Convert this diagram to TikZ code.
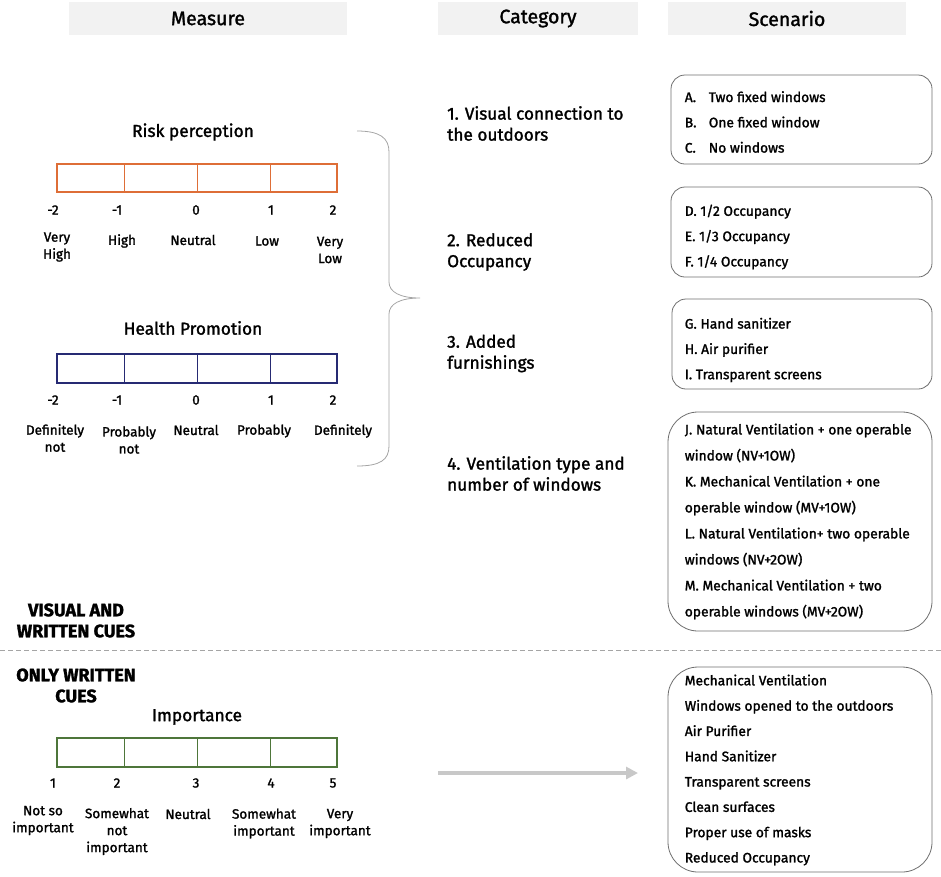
\documentclass[tikz,border=0pt]{standalone}
\usepackage{fontspec}
\setmainfont{Fira Sans}[FakeBold=1.5]
\usetikzlibrary{positioning,arrows.meta}
\definecolor{headgrey}{RGB}{242,242,242}
\definecolor{boxgrey}{RGB}{110,110,110}
\definecolor{bracegrey}{RGB}{165,165,165}
\definecolor{arrowgrey}{RGB}{200,200,200}
\definecolor{riskorange}{RGB}{222,110,55}
\definecolor{healthblue}{RGB}{38,42,115}
\definecolor{impgreen}{RGB}{78,118,58}
\tikzset{
  headbox/.style={fill=headgrey, minimum height=33pt, inner sep=0pt,
    font=\fontsize{19.5}{22}\selectfont},
  title/.style={font=\fontsize{17.3}{20}\selectfont},
  cattext/.style={anchor=west, align=left, inner sep=0pt,
    font=\fontsize{17.2}{21}\selectfont},
  num/.style={inner sep=0pt, font=\fontsize{13.5}{16}\selectfont},
  lbl/.style={inner sep=0pt, align=center, font=\fontsize{13.5}{17}\selectfont},
  scbox/.style={draw=boxgrey, line width=0.8pt, rounded corners=14pt, inner sep=0pt},
  sclist/.style={anchor=west, align=left, inner sep=0pt,
    font=\fontsize{13.8}{25.3}\selectfont},
  cue/.style={align=center, inner sep=0pt, font=\fontsize{18}{21}\selectfont\bfseries}
}
\begin{document}
\begin{tikzpicture}[x=1pt,y=-1pt]
\useasboundingbox (0,0) rectangle (941,876);

% column heads
\node[headbox, minimum width=278pt] (measure) at (208,18.5) {Measure};
\node[headbox, minimum width=200pt] (category) at (538,18.5) {Category};
\node[headbox, minimum width=238pt] (scenario) at (787,18.5) {Scenario};

% risk perception scale
\node[title] (risk) at (193,132) {Risk perception};
\draw[riskorange, line width=1.3pt] (57,164) rectangle (337,192);
\foreach \x in {124,197,270}
  \draw[riskorange, line width=0.7pt] (\x,164) -- (\x,192);
\foreach \x/\n [count=\i] in {53/-2,117/-1,196/0,271/1,333/2}
  \node[num] (rn\i) at (\x,210) {\n};
\node[lbl] (rl1) at (57,247) {Very\\High};
\node[lbl] (rl2) at (122,241) {High};
\node[lbl] (rl3) at (193,240) {Neutral};
\node[lbl] (rl4) at (267,241) {Low};
\node[lbl] (rl5) at (330,250) {Very\\Low};

% health promotion scale
\node[title] (health) at (193,328) {Health Promotion};
\draw[healthblue, line width=1.3pt] (57,354) rectangle (337,383);
\foreach \x in {124,197,270}
  \draw[healthblue, line width=0.7pt] (\x,354) -- (\x,383);
\foreach \x/\n [count=\i] in {53/-2,117/-1,196/0,271/1,333/2}
  \node[num] (hn\i) at (\x,400) {\n};
\node[lbl] (hl1) at (55,438) {Definitely\\not};
\node[lbl] (hl2) at (129,440) {Probably\\not};
\node[lbl] (hl3) at (196,430) {Neutral};
\node[lbl] (hl4) at (264,431) {Probably};
\node[lbl] (hl5) at (343,431) {Definitely};

% brace
\coordinate (bracetop) at (357,131);
\coordinate (bracetip) at (420,298);
\coordinate (bracebot) at (357,466);
\draw[bracegrey, line width=0.8pt] (bracetop)
  .. controls (380,131) and (389,138) .. (389,152) -- (389,282)
  .. controls (389,292) and (400,298) .. (bracetip)
  .. controls (400,298) and (389,304) .. (389,314) -- (389,446)
  .. controls (389,460) and (380,466) .. (bracebot);

% categories
\node[cattext] (cat1) at (447,123.5) {1. Visual connection to\\the outdoors};
\node[cattext] (cat2) at (447,252) {2. Reduced\\Occupancy};
\node[cattext] (cat3) at (447,353.5) {3. Added\\furnishings};
\node[cattext] (cat4) at (447,473.5) {4. Ventilation type and\\number of windows};

% scenarios
\node[scbox, minimum width=261pt, minimum height=89pt] (sc1) at (801.5,119.5) {};
\node[sclist] (sc1txt) at ([xshift=14pt,yshift=-2.5pt]sc1.west)
  {\makebox[24pt][l]{A.}Two fixed windows\\\makebox[24pt][l]{B.}One fixed window\\\makebox[24pt][l]{C.}No windows};
\node[scbox, minimum width=261pt, minimum height=90pt] (sc2) at (801.5,232) {};
\node[sclist] (sc2txt) at ([xshift=14pt,yshift=-5pt]sc2.west)
  {D. 1/2 Occupancy\\E. 1/3 Occupancy\\F. 1/4 Occupancy};
\node[scbox, minimum width=260pt, minimum height=90pt] (sc3) at (802,344) {};
\node[sclist] (sc3txt) at ([xshift=13pt,yshift=-6pt]sc3.west)
  {G. Hand sanitizer\\H. Air purifier\\I. Transparent screens};
\node[scbox, rounded corners=30pt, minimum width=264pt, minimum height=219pt] (sc4) at (800,521.5) {};
\node[sclist, font=\fontsize{13.8}{26}\selectfont] (sc4txt) at ([xshift=17pt]sc4.west)
  {J. Natural Ventilation + one operable\\window (NV+1OW)\\K. Mechanical Ventilation + one\\operable window (MV+1OW)\\L. Natural Ventilation+ two operable\\windows (NV+2OW)\\M. Mechanical Ventilation + two\\operable windows (MV+2OW)};

% cues
\node[cue] (visualcues) at (76,620.5) {VISUAL AND\\WRITTEN CUES};
\coordinate (dashleft) at (0,650);
\coordinate (dashright) at (941,650);
\draw[bracegrey, dash pattern=on 5pt off 3pt, line width=0.8pt] (dashleft) -- (dashright);
\node[cue] (writtencues) at (76,685.5) {ONLY WRITTEN\\CUES};

% importance scale
\node[title] (importance) at (197,717) {Importance};
\draw[impgreen, line width=1.3pt] (57,738) rectangle (337,767);
\foreach \x in {124,197,270}
  \draw[impgreen, line width=0.7pt] (\x,738) -- (\x,767);
\foreach \x/\n [count=\i] in {53/1,117/2,196/3,271/4,333/5}
  \node[num] (in\i) at (\x,783) {\n};
\node[lbl] (il1) at (43,820.5) {Not so\\important};
\node[lbl] (il2) at (117,831.5) {Somewhat\\not\\important};
\node[lbl] (il3) at (188,814) {Neutral};
\node[lbl] (il4) at (264,823.5) {Somewhat\\important};
\node[lbl] (il5) at (340,823.5) {Very\\important};

% arrow to the written list
\coordinate (arrowstart) at (438,773);
\coordinate (arrowend) at (638,773);
\draw[arrowgrey, line width=4pt, -{Triangle[length=12pt,width=12pt]}] (arrowstart) -- (arrowend);

\node[scbox, rounded corners=30pt, minimum width=264pt, minimum height=205pt] (sc5) at (800,769.5) {};
\node[sclist] (sc5txt) at ([xshift=17pt,yshift=-0.5pt]sc5.west)
  {Mechanical Ventilation\\Windows opened to the outdoors\\Air Purifier\\Hand Sanitizer\\Transparent screens\\Clean surfaces\\Proper use of masks\\Reduced Occupancy};
\end{tikzpicture}
\end{document}
